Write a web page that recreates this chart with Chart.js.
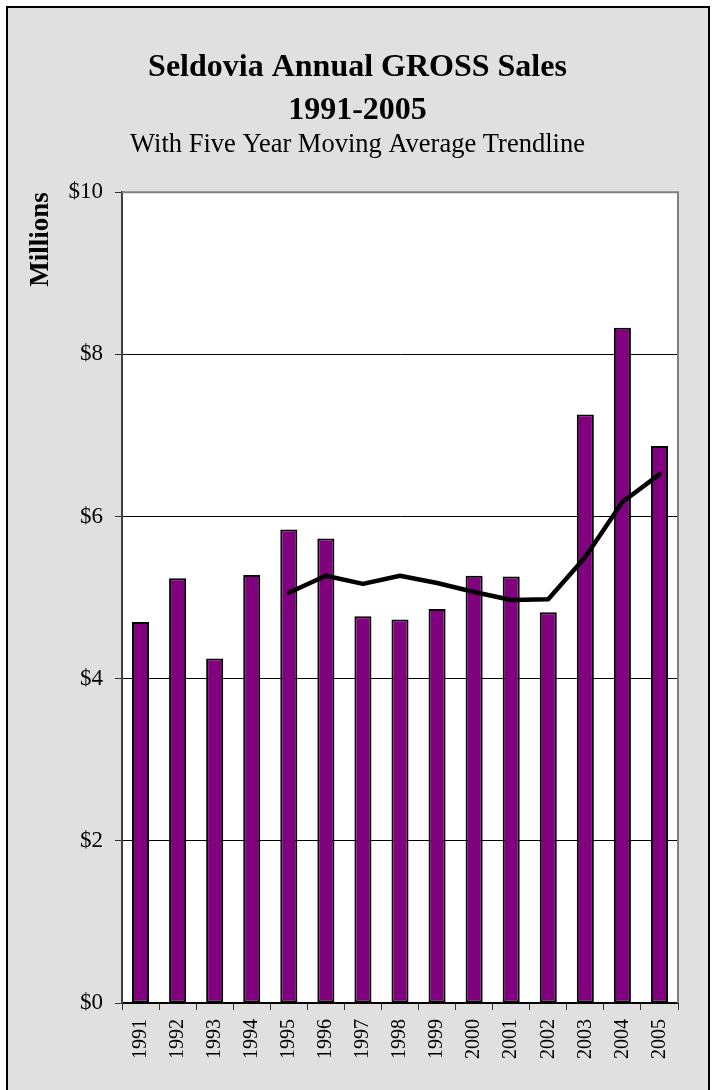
<!DOCTYPE html>
<html><head><meta charset="utf-8">
<script src="https://cdn.jsdelivr.net/npm/chart.js@4/dist/chart.umd.min.js"></script>
<style>html,body{margin:0;padding:0;background:#fff;}canvas{display:block;}</style>
</head><body>
<canvas id="c" width="716" height="1090"></canvas>
<script>
const years = ['1991','1992','1993','1994','1995','1996','1997','1998','1999','2000','2001','2002','2003','2004','2005'];
const grossSales = [4.70,5.24,4.25,5.28,5.84,5.73,4.77,4.73,4.86,5.27,5.26,4.82,7.26,8.33,6.87];
const movingAverage = [null,null,null,null,5.06,5.27,5.17,5.27,5.18,5.07,4.97,4.98,5.50,6.18,6.52];
const yTickValues = [0,2,4,6,8,10];
const titleLines = ['Seldovia Annual GROSS Sales','1991-2005'];
const subtitleText = 'With Five Year Moving Average Trendline';
const yAxisTitle = 'Millions';

const SERIF = '"Liberation Serif", "Times New Roman", serif';

const framePlugin = {
  id: 'frame',
  beforeDraw(chart) {
    const ctx = chart.ctx;
    ctx.save();
    ctx.fillStyle = '#e0e0e0';
    ctx.fillRect(7, 7, 702, 1090);
    ctx.strokeStyle = '#000';
    ctx.lineWidth = 2;
    ctx.beginPath();
    ctx.moveTo(7, 1092); ctx.lineTo(7, 7); ctx.lineTo(709, 7); ctx.lineTo(709, 1092);
    ctx.stroke();
    const a = chart.chartArea;
    ctx.fillStyle = '#ffffff';
    ctx.fillRect(a.left, a.top, a.right - a.left, a.bottom - a.top);
    ctx.restore();
  },
  afterDraw(chart) {
    const ctx = chart.ctx;
    const a = chart.chartArea;
    ctx.save();
    ctx.strokeStyle = '#808080';
    ctx.lineWidth = 2;
    ctx.beginPath();
    ctx.moveTo(a.left, a.top); ctx.lineTo(a.right, a.top); ctx.lineTo(a.right, a.bottom);
    ctx.stroke();
    ctx.restore();
  }
};

new Chart(document.getElementById('c'), {
  data: {
    labels: years,
    datasets: [
      {
        type: 'line',
        data: movingAverage,
        borderColor: '#000',
        borderWidth: 4.5,
        pointRadius: 0,
        tension: 0,
        order: 0,
        borderCapStyle: 'round',
        borderJoinStyle: 'round'
      },
      {
        type: 'bar',
        data: grossSales,
        backgroundColor: '#800080',
        borderColor: '#000',
        borderWidth: 2,
        borderSkipped: false,
        barPercentage: 0.46,
        categoryPercentage: 1,
        order: 1
      }
    ]
  },
  plugins: [framePlugin],
  options: {
    responsive: false,
    animation: false,
    devicePixelRatio: 1,
    layout: { padding: { left: 22, right: 23, top: 0, bottom: 0 } },
    plugins: {
      legend: { display: false },
      tooltip: { enabled: false },
      title: {
        display: true,
        text: titleLines,
        color: '#000',
        font: { family: SERIF, size: 32, weight: 'bold', lineHeight: 1.34 },
        padding: { top: 46, bottom: 0 }
      },
      subtitle: {
        display: true,
        text: subtitleText,
        color: '#000',
        font: { family: SERIF, size: 26.5, weight: 'normal', lineHeight: 1.0 },
        padding: { top: 0, bottom: 34 }
      }
    },
    scales: {
      x: {
        offset: true,
        grid: { display: true, offset: true, drawOnChartArea: false, drawTicks: true, tickLength: 7, tickColor: '#333', lineWidth: 1 },
        border: { display: true, color: '#000', width: 2 },
        ticks: { color: '#000', font: { family: SERIF, size: 20 }, minRotation: 90, maxRotation: 90, padding: 9, autoSkip: false },
        afterFit(scale) { scale.height = 87; }
      },
      y: {
        min: 0, max: 10,
        afterBuildTicks(scale) { scale.ticks = yTickValues.map(v => ({ value: v })); },
        grid: {
          color: ctx => (ctx.tick && (ctx.tick.value === 0 || ctx.tick.value === 10)) ? 'rgba(0,0,0,0)' : '#000',
          tickColor: '#333', tickLength: 7, lineWidth: 1, drawTicks: true
        },
        border: { display: true, color: '#404040', width: 2 },
        ticks: { color: '#000', font: { family: SERIF, size: 23 }, padding: 12, callback: v => '$' + v },
        title: { display: true, text: yAxisTitle, align: 'end', color: '#000', font: { family: SERIF, size: 27, weight: 'bold', lineHeight: 1.2 }, padding: { top: 3, bottom: 0 } },
        afterFit(scale) { scale.width = 100; }
      },
      ySpacer: {
        type: 'linear',
        position: 'right',
        display: true,
        grid: { display: false, drawTicks: false },
        border: { display: false },
        ticks: { display: false },
        title: { display: false },
        afterFit(scale) { scale.width = 15; }
      }
    }
  }
});
</script>
</body></html>
